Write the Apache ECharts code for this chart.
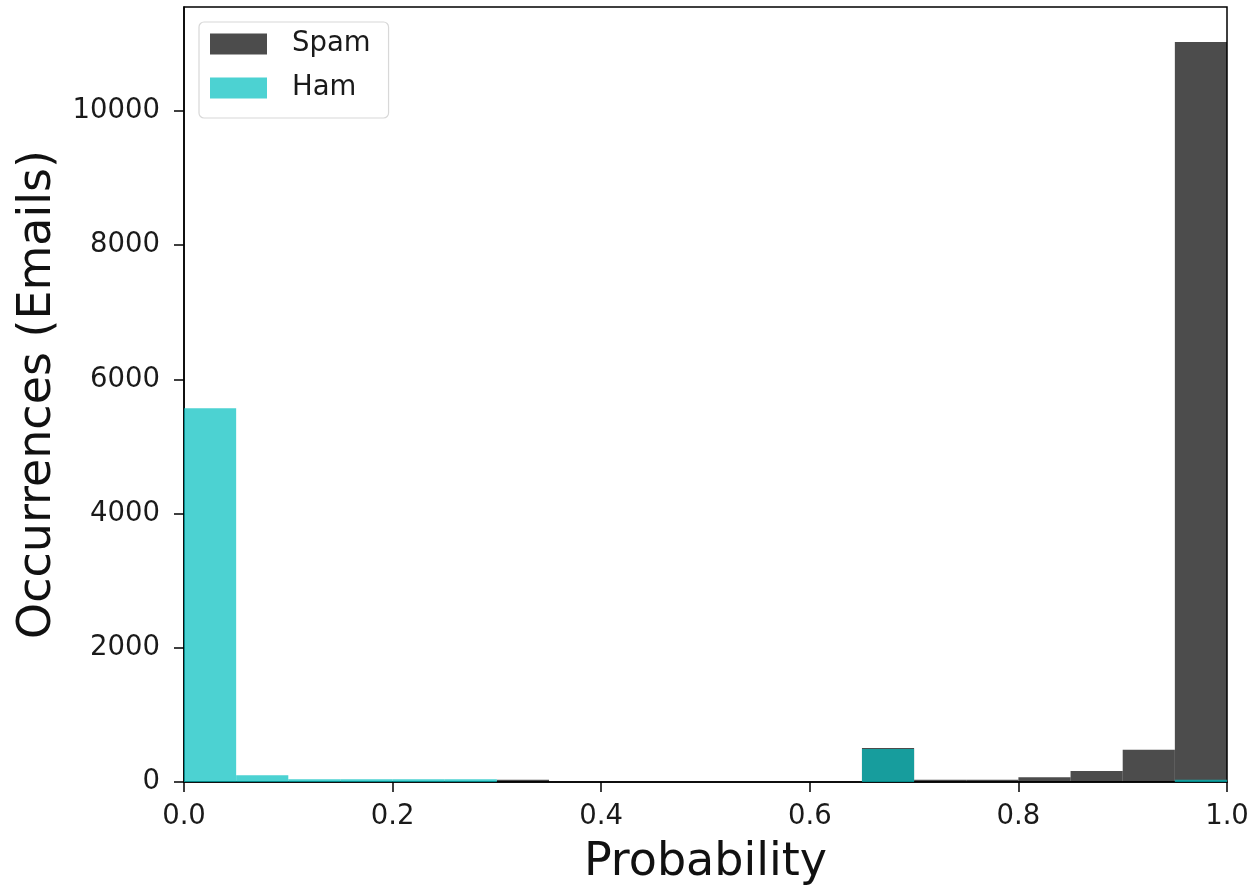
<!DOCTYPE html>
<html>
<head>
<meta charset="utf-8">
<script src="https://cdn.jsdelivr.net/npm/echarts@6/dist/echarts.min.js"></script>
<style>
  html, body { margin: 0; padding: 0; background: #fff; }
  #main { width: 1253px; height: 886px; }
</style>
</head>
<body>
<div id="main"></div>
<script>
// bin edges (20 bins of 0.05)
var binEdges = [0, 0.05, 0.1, 0.15, 0.2, 0.25, 0.3, 0.35, 0.4, 0.45, 0.5,
                0.55, 0.6, 0.65, 0.7, 0.75, 0.8, 0.85, 0.9, 0.95, 1.0];
// counts
var spamCounts = [5, 0, 0, 0, 0, 0, 35, 0, 0, 0, 0, 0, 0, 505, 35, 35, 70, 165, 480, 11030];
var hamCounts  = [5570, 100, 40, 40, 40, 40, 0, 0, 0, 0, 0, 0, 0, 490, 0, 0, 0, 0, 0, 35];

var yTickValues = [0, 2000, 4000, 6000, 8000, 10000];
var yMax = 11550;
var xTickValues = [0, 0.2, 0.4, 0.6, 0.8, 1.0];

function toBins(counts) {
    var out = [];
    counts.forEach(function (v, i) {
        out.push([binEdges[i], binEdges[i + 1], v]);
    });
    return out;
}

function renderBin(params, api) {
    var p0 = api.coord([api.value(0), api.value(2)]);
    var p1 = api.coord([api.value(1), 0]);
    return {
        type: 'rect',
        shape: { x: p0[0], y: p0[1], width: p1[0] - p0[0], height: p1[1] - p0[1] },
        style: { fill: api.visual('color') }
    };
}

var font = 'DejaVu Sans';
var myChart = echarts.init(document.getElementById('main'));
myChart.setOption({
    animation: false,
    textStyle: { fontFamily: font },
    grid: {
        left: 184, right: 26, top: 7, bottom: 104,
        outerBoundsMode: 'none',
        show: true, borderColor: '#000', borderWidth: 1.5, backgroundColor: 'transparent'
    },
    legend: {
        left: 199, top: 22,
        orient: 'vertical',
        itemWidth: 57, itemHeight: 21, itemGap: 16,
        padding: [8, 18, 16, 11],
        borderColor: '#d8d8d8', borderWidth: 1.2, borderRadius: 5,
        backgroundColor: 'rgba(255,255,255,0.8)',
        icon: 'rect',
        textStyle: { fontSize: 27.5, color: '#1a1a1a', fontFamily: font, padding: [0, 0, 0, 20] },
        data: ['Spam', 'Ham']
    },
    xAxis: {
        type: 'value',
        min: 0, max: 1, interval: 0.2,
        name: 'Probability',
        nameLocation: 'middle', nameGap: 58,
        nameTextStyle: { fontSize: 46, color: '#111', fontFamily: font },
        axisLine: { lineStyle: { color: '#000', width: 1.5 } },
        axisTick: { length: 10, customValues: xTickValues, lineStyle: { color: '#000', width: 1.5 } },
        axisLabel: {
            fontSize: 27.5, color: '#1a1a1a', margin: 21,
            customValues: xTickValues,
            formatter: function (v) { return v.toFixed(1); }
        },
        splitLine: { show: false }
    },
    yAxis: {
        type: 'value',
        min: 0, max: yMax, interval: 2000,
        name: 'Occurrences (Emails)',
        nameLocation: 'middle', nameGap: 123,
        nameTextStyle: { fontSize: 46, color: '#111', fontFamily: font },
        axisLine: { show: true, lineStyle: { color: '#000', width: 1.5 } },
        axisTick: { show: true, length: 10, customValues: yTickValues, lineStyle: { color: '#000', width: 1.5 } },
        axisLabel: {
            fontSize: 27.5, color: '#1a1a1a', margin: 24,
            customValues: yTickValues,
            formatter: function (v) { return String(v); }
        },
        splitLine: { show: false }
    },
    series: [
        {
            name: 'Spam',
            type: 'custom',
            renderItem: renderBin,
            itemStyle: { color: 'rgba(0,0,0,0.7)' },
            encode: { x: [0, 1], y: 2 },
            data: toBins(spamCounts)
        },
        {
            name: 'Ham',
            type: 'custom',
            renderItem: renderBin,
            itemStyle: { color: 'rgba(0,191,191,0.7)' },
            encode: { x: [0, 1], y: 2 },
            data: toBins(hamCounts)
        }
    ]
});
</script>
</body>
</html>
